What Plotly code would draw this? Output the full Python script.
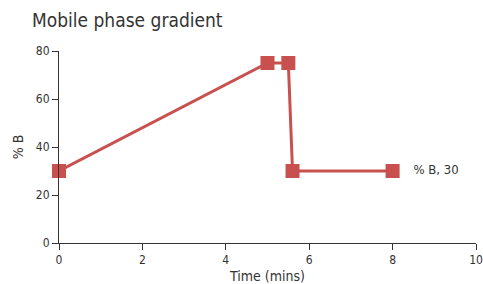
import plotly.graph_objects as go

time_min = [0, 5, 5.5, 5.6, 8]
pct_b = [30, 75, 75, 30, 30]
point_labels = ["", "", "", "", "   % B, 30"]
x_ticks = [0, 2, 4, 6, 8, 10]
y_ticks = [0, 20, 40, 60, 80]

color = "#C8504E"
font_family = "DejaVu Sans Condensed, Liberation Sans Narrow, sans-serif"
txt = "#333333"

fig = go.Figure()
fig.add_trace(go.Scatter(
    x=time_min, y=pct_b, mode="lines+markers+text",
    line=dict(color=color, width=3),
    marker=dict(symbol="square", size=14, color=color),
    text=point_labels, textposition="middle right",
    textfont=dict(family=font_family, size=13, color=txt),
    cliponaxis=False, showlegend=False,
))

axis_common = dict(
    showgrid=False, zeroline=False, showline=True, linecolor=txt, linewidth=1,
    ticks="outside", ticklen=6, tickcolor=txt, automargin=False,
    tickfont=dict(family=font_family, size=12, color=txt),
)
fig.update_xaxes(range=[0, 10.0001], tickvals=x_ticks, title=dict(text="Time (mins)", standoff=4,
                 font=dict(family=font_family, size=14, color=txt)), **axis_common)
fig.update_yaxes(range=[0, 80.001], tickvals=y_ticks, title=dict(text="% B", standoff=8,
                 font=dict(family=font_family, size=14, color=txt)), **axis_common)

fig.update_layout(
    width=483, height=284,
    margin=dict(l=59, r=7, t=51, b=41, autoexpand=False),
    paper_bgcolor="white", plot_bgcolor="white",
    title=dict(text="Mobile phase gradient", x=32/483, xref="container", xanchor="left",
               y=1-20/284, yref="container", yanchor="middle",
               font=dict(family=font_family, size=19, color=txt)),
)
fig.write_html("out.html", config={"displayModeBar": False},
               post_script="document.body.style.margin='0';")
